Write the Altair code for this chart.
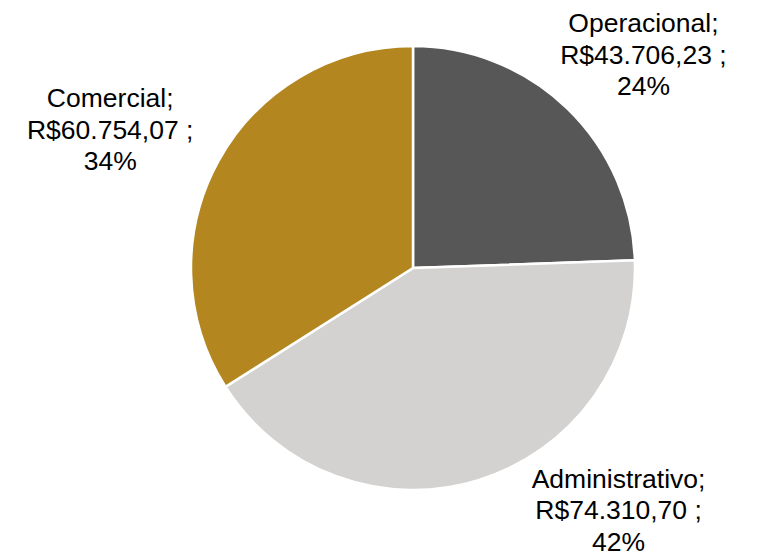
import altair as alt
import pandas as pd

categories = ["Operacional", "Administrativo", "Comercial"]
values = [43706.23, 74310.70, 60754.07]
colors = ["#575757", "#D3D2D1", "#B3861F"]


def brl(v):
    s = f"{v:,.2f}"
    s = s.replace(",", "X").replace(".", ",").replace("X", ".")
    return "R$" + s


total = sum(values)
labels = [
    f"{c};\n{brl(v)} ;\n{round(v / total * 100):.0f}%"
    for c, v in zip(categories, values)
]

df = pd.DataFrame({
    "cat": categories,
    "val": values,
    "label": labels,
    "ord": list(range(len(categories))),
})

CX, CY, R = 405, 260, 222
theta_scale = alt.Scale(domain=[0, total])

pie = alt.Chart(df).mark_arc(
    outerRadius=R, stroke="white", strokeWidth=2.5, x=CX, y=CY
).encode(
    theta=alt.Theta("val:Q", stack=True, scale=theta_scale),
    order=alt.Order("ord:Q"),
    color=alt.Color("cat:N", scale=alt.Scale(domain=categories, range=colors), legend=None),
)

offsets = {
    "Operacional": (22, -28),
    "Administrativo": (117, -75),
    "Comercial": (-40, -24),
}

texts = []
for c in categories:
    dx, dy = offsets[c]
    texts.append(
        alt.Chart(df)
        .transform_window(cum="sum(val)", sort=[alt.SortField("ord")], frame=[None, 0])
        .transform_calculate(mid="datum.cum - datum.val / 2")
        .transform_filter(alt.datum.cat == c)
        .mark_text(
            radius=300, x=CX, y=CY, dx=dx, dy=dy,
            font="Liberation Sans", fontSize=26.5, lineBreak="\n", lineHeight=31.5,
            align="center", baseline="middle", color="#000000",
        )
        .encode(
            theta=alt.Theta("mid:Q", scale=theta_scale),
            text="label:N",
        )
    )

chart = alt.layer(pie, *texts).properties(
    width=752, height=544, padding=0, autosize="none"
).configure_view(stroke=None)

chart.save("out.html", embed_options={"renderer": "svg", "actions": False})
